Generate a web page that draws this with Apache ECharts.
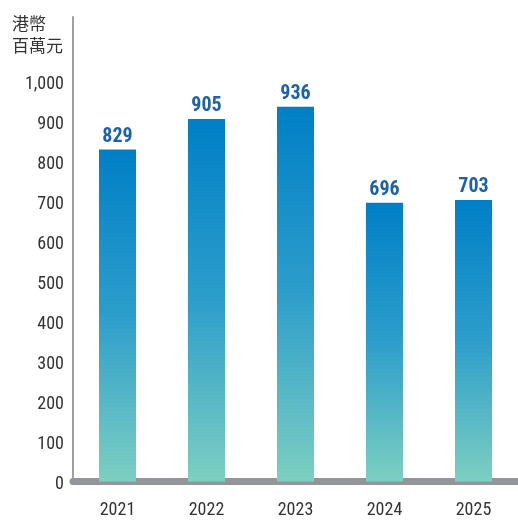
<!DOCTYPE html>
<html><head><meta charset="utf-8">
<script src="https://cdn.jsdelivr.net/npm/echarts@6/dist/echarts.min.js"></script>
<style>html,body{margin:0;padding:0;background:#fff}#c{width:518px;height:520px}</style>
</head><body><div id="c"></div>
<script>
const categories = ['2021','2022','2023','2024','2025'];
const values = [829, 905, 936, 696, 703];
const yTicks = [0,100,200,300,400,500,600,700,800,900,1000];
const unitLabel = '港幣\n百萬元';

const font = '"Roboto Condensed","Liberation Sans Narrow",sans-serif';
const chart = echarts.init(document.getElementById('c'));
chart.setOption({
  animation:false,
  graphic:[{type:'text',right:455,top:13,style:{text:unitLabel,fill:'#333',font:'17px "Noto Sans CJK TC",sans-serif',align:'right',lineHeight:22}}],
  grid:{left:73,top:17,width:456,bottom:38.5,containLabel:false},
  xAxis:{type:'category',data:categories,
    axisLine:{lineStyle:{color:'#939598',width:7}},
    axisTick:{show:false},
    axisLabel:{color:'#333',fontFamily:font,fontSize:18,margin:20}},
  yAxis:{type:'value',min:0,max:1160,interval:100,
    axisLine:{show:true,lineStyle:{color:'#a0a0a0',width:2}},
    axisTick:{show:false},splitLine:{show:false},
    axisLabel:{color:'#333',fontFamily:font,fontSize:18,margin:9,showMaxLabel:false,verticalAlign:'top',lineHeight:6,
      formatter:v=> yTicks.includes(v) ? v.toLocaleString('en-US') : ''}},
  series:[{type:'bar',data:values,barWidth:37,
    itemStyle:{color:new echarts.graphic.LinearGradient(0,0,0,1,[
      {offset:0,color:'#007fc6'},{offset:0.5,color:'#2d9ecb'},{offset:1,color:'#7dcfc1'}])},
    label:{show:true,position:'top',distance:3,color:'#1a62ad',fontFamily:font,fontWeight:'bold',fontSize:20}}]
});
</script></body></html>
